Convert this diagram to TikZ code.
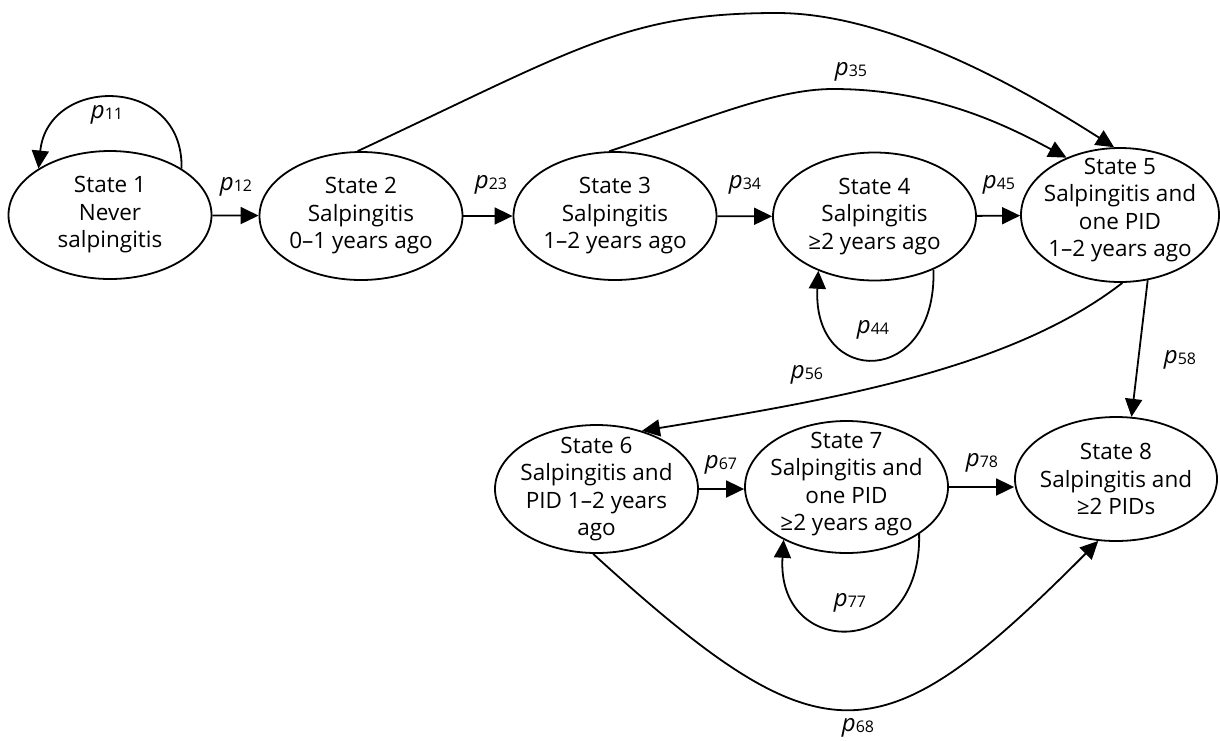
\documentclass[tikz,border=0pt]{standalone}
\usepackage{fontspec}
\setmainfont{Open Sans}
\usetikzlibrary{arrows.meta,shapes.geometric}
\newcommand\plab[1]{{\fontsize{24}{26}\selectfont\itshape p}\raisebox{-1pt}{\fontsize{16}{18}\selectfont #1}}
\begin{document}
\begin{tikzpicture}[x=1pt,y=-1pt,
  st/.style={draw, ellipse, line width=1.8pt, minimum width=203pt, minimum height=128pt, inner sep=0pt},
  txt/.style={align=center, font=\fontsize{22.5}{27.5}\selectfont, inner sep=0pt},
  arr/.style={line width=1.8pt, -{Triangle[length=18pt,width=17pt]}},
  lab/.style={inner sep=0pt}]
\useasboundingbox (0,0) rectangle (1220,740);

% states
\node[st, label={[txt,name=t1]center:{State 1\\Never\\salpingitis}}] (s1) at (110,215) {};
\node[st, label={[txt,name=t2]center:{State 2\\Salpingitis\\0–1 years ago}}] (s2) at (361,216) {};
\node[st, label={[txt,name=t3]center:{State 3\\Salpingitis\\1–2 years ago}}] (s3) at (615,216) {};
\node[st, label={[txt,name=t4]center:{State 4\\Salpingitis\\≥2 years ago}}] (s4) at (874.5,216.5) {};
\node[st, minimum width=198pt, minimum height=134pt, label={[txt,name=t5,yshift=5pt]center:{State 5\\Salpingitis and\\one PID\\1–2 years ago}}] (s5) at (1120,215) {};
\node[st, label={[txt,name=t6]center:{State 6\\Salpingitis and\\PID 1–2 years\\ago}}] (s6) at (596.5,489) {};
\node[st, minimum height=132pt, label={[txt,name=t7,yshift=3pt]center:{State 7\\Salpingitis and\\one PID\\≥2 years ago}}] (s7) at (846.5,487) {};
\node[st, minimum width=202pt, minimum height=124pt, label={[txt,name=t8]center:{State 8\\Salpingitis and\\≥2 PIDs}}] (s8) at (1116,479) {};

% straight transitions
\draw[arr] (s1) -- (s2);
\draw[arr] (s2) -- (s3);
\draw[arr] (s3) -- (s4);
\draw[arr] (s4) -- (s5);
\draw[arr] (s6.east) -- (s6.east -| s7.west);
\draw[arr] (s7.east) -- (s7.east -| s8.west);
\draw[arr] (s5.-67) -- (s8.76);

% self loops
\draw[arr] (s1.33) .. controls (184,75) and (48,75) .. (s1.147);
\draw[arr] (s4.-42) .. controls (937,388) and (812,388) .. (s4.-136);
\draw[arr] (s7.-33) .. controls (922,660) and (776,660) .. (s7.-140);

% long arcs
\coordinate (top25) at (777,13);
\coordinate (top35) at (833,89);
\draw[arr] (s2.93) .. controls (578,48) and (627,13) .. (top25)
  .. controls (897,13) and (1040,100) .. (s5.95);
\draw[arr] (s3.95) .. controls (698,122) and (773,89) .. (top35)
  .. controls (933,89) and (1006,125) .. (s5.133);
\draw[arr] (s5.-88) .. controls (1010,370) and (830,400) .. (s6.52);
\draw[arr] (s6.-93) .. controls (824,764) and (879,761) .. (s8.-106);

% labels
\node[lab] (l11) at (107,115) {\plab{11}};
\node[lab] (l12) at (236,187) {\plab{12}};
\node[lab] (l23) at (491,185) {\plab{23}};
\node[lab] (l34) at (745,185) {\plab{34}};
\node[lab] (l45) at (999,185) {\plab{45}};
\node[lab] (l35) at (851,72) {\plab{35}};
\node[lab] (l44) at (873,330) {\plab{44}};
\node[lab] (l56) at (807,375) {\plab{56}};
\node[lab] (l58) at (1180,360) {\plab{58}};
\node[lab] (l67) at (721,465) {\plab{67}};
\node[lab] (l78) at (982,463) {\plab{78}};
\node[lab] (l77) at (850,603) {\plab{77}};
\node[lab] (l68) at (858,728) {\plab{68}};
\end{tikzpicture}
\end{document}
